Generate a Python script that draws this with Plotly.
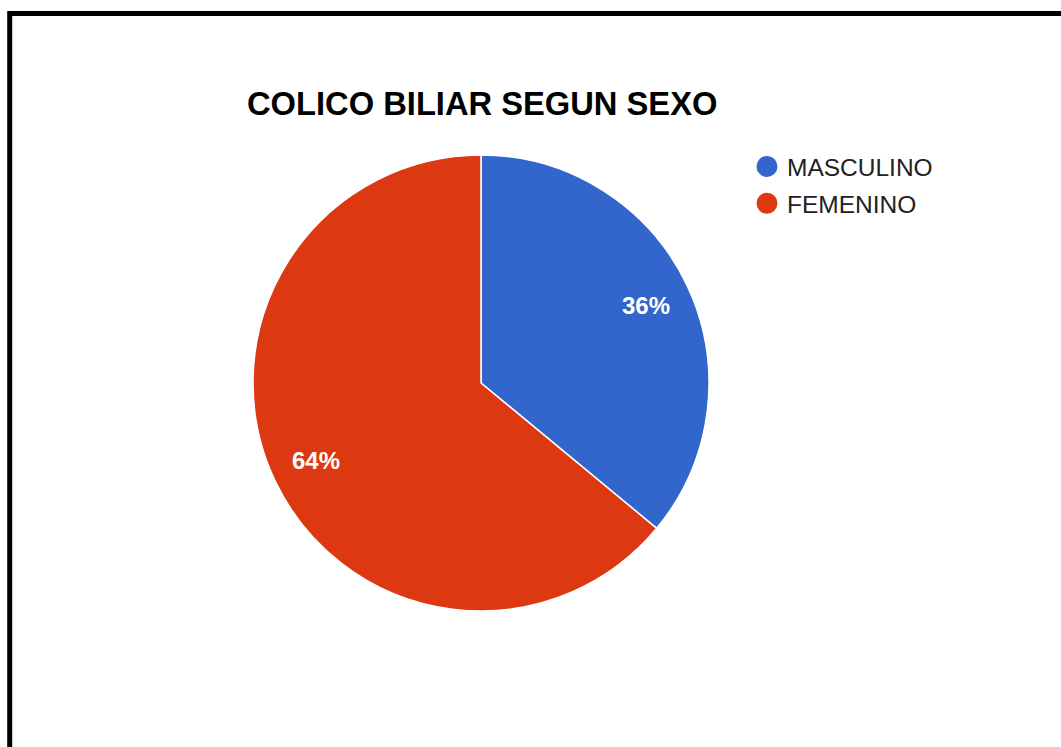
import plotly.graph_objects as go

categories = ["MASCULINO", "FEMENINO"]
values = [36, 64]
colors = ["#3366CC", "#DC3912"]
title_text = "COLICO BILIAR SEGUN SEXO"

W, H = 1061, 747
pie_domain = dict(x=[253 / W, 709 / W], y=[1 - 611 / H, 1 - 155 / H])

fig = go.Figure()

# filled slices
fig.add_trace(go.Pie(
    labels=categories,
    values=values,
    sort=False,
    direction="clockwise",
    rotation=0,
    marker=dict(colors=colors, line=dict(color="white", width=1.5)),
    textinfo="none",
    showlegend=False,
    hoverinfo="label+percent",
    domain=pie_domain,
))

# transparent ring carrying the percentage labels near the rim
fig.add_trace(go.Pie(
    labels=categories,
    values=values,
    sort=False,
    direction="clockwise",
    rotation=0,
    hole=0.6,
    marker=dict(colors=["rgba(0,0,0,0)"] * len(values), line=dict(width=0)),
    textinfo="percent",
    texttemplate="%{percent:.0%}",
    textposition="inside",
    insidetextorientation="horizontal",
    textfont=dict(family="Liberation Sans, Arial", size=24, color="white", weight="bold"),
    showlegend=False,
    hoverinfo="skip",
    domain=pie_domain,
))

# legend entries with circle markers
for name, col in zip(categories, colors):
    fig.add_trace(go.Scatter(
        x=[None], y=[None], mode="markers", name=name,
        marker=dict(symbol="circle", size=16, color=col, line=dict(color=col, width=5)),
        legendgroup=name, showlegend=True, hoverinfo="skip",
    ))

fig.update_layout(
    width=W, height=H,
    margin=dict(l=0, r=0, t=0, b=0),
    paper_bgcolor="white",
    plot_bgcolor="white",
    xaxis=dict(visible=False),
    yaxis=dict(visible=False),
    title=dict(
        text=title_text,
        x=247 / W, xanchor="left", xref="paper",
        y=1 - 104 / H, yanchor="middle", yref="paper",
        font=dict(family="Liberation Sans, Arial", size=32.7, color="#000000", weight="bold"),
    ),
    legend=dict(
        x=747 / W, xanchor="left",
        y=1 - 144 / H, yanchor="top",
        font=dict(family="Liberation Sans, Arial", size=24.5, color="#222222"),
        tracegroupgap=2,
        bgcolor="rgba(0,0,0,0)",
        itemsizing="trace",
    ),
    shapes=[dict(
        type="rect", xref="paper", yref="paper",
        x0=9.7 / W, x1=1.05, y0=-0.05, y1=1 - 13.4 / H,
        line=dict(color="black", width=5),
        fillcolor="rgba(0,0,0,0)",
    )],
)

fig.write_html("out.html")
